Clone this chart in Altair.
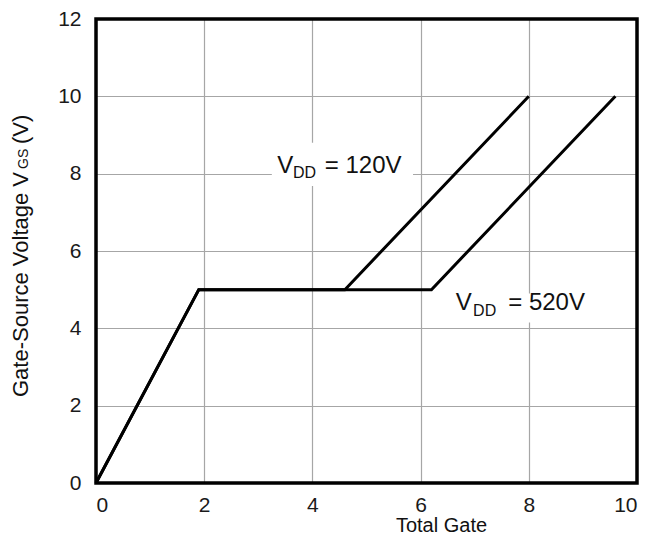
import altair as alt
import pandas as pd

# ---- data ----
series_names = ["VDD = 120V", "VDD = 520V"]
qg_120 = [0.0, 1.9, 4.6, 8.0]
vgs_120 = [0.0, 5.0, 5.0, 10.0]
qg_520 = [0.0, 1.9, 6.2, 9.6]
vgs_520 = [0.0, 5.0, 5.0, 10.0]

x_ticks = [0, 2, 4, 6, 8, 10]
y_ticks = [0, 2, 4, 6, 8, 10, 12]
x_title = "Total Gate"

rows = []
for name, xs, ys in [(series_names[0], qg_120, vgs_120), (series_names[1], qg_520, vgs_520)]:
    for i, (a, b) in enumerate(zip(xs, ys)):
        rows.append({"series": name, "idx": i, "qg": a, "vgs": b})
df = pd.DataFrame(rows)

FONT = "Liberation Sans"
W, H = 541, 464

xscale = alt.Scale(domain=[0, 10], nice=False, zero=False)
yscale = alt.Scale(domain=[0, 12], nice=False, zero=False)

x_axis = alt.Axis(values=x_ticks, title=x_title, grid=True,
                  gridColor="#a6a6a6", gridWidth=1.2,
                  domain=False, ticks=False, labelPadding=11,
                  labelFontSize=21, labelColor="#1a1a1a", labelFont=FONT,
                  titleFont=FONT, titleFontSize=20, titleFontWeight="normal",
                  titleColor="#111111", titleX=345, titleY=48,
                  titleAlign="center", titleBaseline="alphabetic")
y_axis = alt.Axis(values=y_ticks, title=None, grid=True,
                  gridColor="#a6a6a6", gridWidth=1.2,
                  domain=False, ticks=False, labelPadding=15,
                  labelFontSize=21, labelColor="#1a1a1a", labelFont=FONT)

# white boxes behind the annotations (data units)
boxes = pd.DataFrame({"x1": [3.25, 6.1], "x2": [5.86, 9.2], "y1": [7.68, 4.15], "y2": [8.8, 4.9]})
box_layer = alt.Chart(boxes).mark_rect(color="white").encode(
    x=alt.X("x1:Q", scale=xscale, axis=x_axis), x2="x2:Q",
    y=alt.Y("y1:Q", scale=yscale, axis=y_axis), y2="y2:Q")

lines = alt.Chart(df).mark_line(color="black", strokeWidth=3, strokeJoin="miter").encode(
    x=alt.X("qg:Q", scale=xscale, axis=x_axis),
    y=alt.Y("vgs:Q", scale=yscale, axis=y_axis),
    detail="series:N", order="idx:Q")

# annotation texts: V_DD = ...
big = pd.DataFrame({"t": ["V", "= 120V", "V", "= 520V"],
                    "x": [3.35, 4.23, 6.65, 7.62],
                    "y": [8.03, 8.03, 4.48, 4.48]})
small = pd.DataFrame({"t": ["DD", "DD"], "x": [3.64, 6.97], "y": [7.90, 4.33]})
big_layer = alt.Chart(big).mark_text(font=FONT, fontSize=24, align="left",
                                     baseline="alphabetic", color="#111111").encode(
    x=alt.X("x:Q", scale=xscale), y=alt.Y("y:Q", scale=yscale), text="t:N")
small_layer = alt.Chart(small).mark_text(font=FONT, fontSize=16, align="left",
                                         baseline="alphabetic", color="#111111").encode(
    x=alt.X("x:Q", scale=xscale), y=alt.Y("y:Q", scale=yscale), text="t:N")

# y-axis title with subscript, built from pieces
one = pd.DataFrame({"k": [0]})
yt1 = alt.Chart(one).mark_text(text="Gate-Source Voltage V", font=FONT, fontSize=22, angle=270,
                               align="left", baseline="alphabetic", color="#111111").encode(
    x=alt.value(-68), y=alt.value(378))
yt2 = alt.Chart(one).mark_text(text="GS", font=FONT, fontSize=14, angle=270,
                               align="left", baseline="alphabetic", color="#111111").encode(
    x=alt.value(-68), y=alt.value(150))
yt3 = alt.Chart(one).mark_text(text="(V)", font=FONT, fontSize=22, angle=270,
                               align="left", baseline="alphabetic", color="#111111").encode(
    x=alt.value(-68), y=alt.value(125))

# thick plot frame on top of the grid
frame = alt.Chart(one).mark_rect(fillOpacity=0, stroke="black", strokeWidth=3.5).encode(
    x=alt.value(0), x2=alt.value(W), y=alt.value(0), y2=alt.value(H))

chart = alt.layer(box_layer, lines, big_layer, small_layer, yt1, yt2, yt3, frame).properties(
    width=W, height=H, autosize="none",
    padding={"left": 88, "top": 11, "right": 5, "bottom": 55},
    background="white",
).configure_view(strokeWidth=0)

chart.save("out.html", embed_options={"renderer": "svg", "actions": False})
